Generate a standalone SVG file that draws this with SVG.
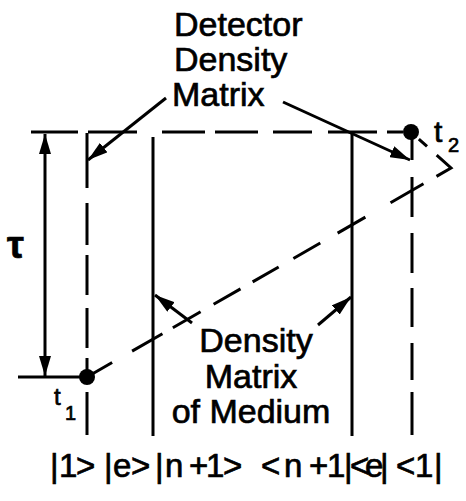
<svg xmlns="http://www.w3.org/2000/svg" width="466" height="501" viewBox="0 0 466 501">
<defs>
<style>
.ln{stroke:#000;stroke-width:3;fill:none;stroke-linecap:butt}
.lbl{font-family:"Liberation Sans",Arial,sans-serif;fill:#000;stroke:#000;stroke-width:0.7}
.big{font-size:34px}
</style>
<marker id="ah" viewBox="0 0 20 12" refX="20" refY="6" markerWidth="20" markerHeight="12" markerUnits="userSpaceOnUse" orient="auto">
<path d="M0,0 L20,6 L0,12 z" fill="#000"/>
</marker>
</defs>
<rect width="466" height="501" fill="#fff"/>

<g id="connectors">
  <!-- top dashed horizontal (t2 time line) -->
  <path class="ln" d="M31,132 H78 M88,132 H137 M162,132 H205 M215,132 H258 M273,132 H312 M328,132 H377 M387,132 H403"/>
  <!-- bottom horizontal (t1 time line) -->
  <path class="ln" d="M18,377 H87"/>
  <!-- tau double arrow -->
  <line class="ln" x1="45" y1="255" x2="45" y2="134" marker-end="url(#ah)"/>
  <line class="ln" x1="45" y1="255" x2="45" y2="376" marker-end="url(#ah)"/>
  <!-- left dashed vertical -->
  <path class="ln" d="M87,133 V188 M87,203 V245 M87,255 V295 M87,308 V348 M87,358 V377 M87,392 V435"/>
  <!-- solid verticals (medium) -->
  <path class="ln" d="M153,137 V436 M352,132 V436"/>
  <!-- right dashed vertical -->
  <path class="ln" d="M412,132 V160 M412,177 V217 M412,233 V273 M412,288 V327 M412,343 V380 M412,392 V435"/>
  <!-- diagonal dashed photon path with reflection -->
  <path class="ln" d="M87,377 L451,168 L411,132" stroke-dasharray="29 23 35 12 32 15 31 14 30 17 31 20 32 29 38 15 36 13 11 40" stroke-linejoin="miter"/>
  <!-- label arrows -->
  <line class="ln" x1="166" y1="98" x2="88" y2="160" marker-end="url(#ah)" stroke-width="2.5"/>
  <line class="ln" x1="283" y1="102" x2="410" y2="160" marker-end="url(#ah)" stroke-width="2.5"/>
  <line class="ln" x1="192" y1="323" x2="155" y2="295" marker-end="url(#ah)" stroke-width="2.5"/>
  <line class="ln" x1="318" y1="325" x2="351" y2="297" marker-end="url(#ah)" stroke-width="2.5"/>
</g>

<g id="t1">
  <circle cx="87" cy="377" r="8" fill="#000"/>
  <text class="lbl" x="54" y="405" font-size="24">t<tspan x="65" y="420" font-size="20">1</tspan></text>
</g>
<g id="t2">
  <circle cx="411" cy="132" r="8" fill="#000"/>
  <text class="lbl" x="434" y="142" font-size="30">t<tspan x="448" y="152" font-size="20">2</tspan></text>
</g>
<g id="tau">
  <text class="lbl" x="7" y="258" font-size="38" font-weight="bold">τ</text>
</g>
<g id="detector-label">
  <text class="lbl big"><tspan x="174" y="36">Detector</tspan><tspan x="174" y="71">Density</tspan><tspan x="172" y="106">Matrix</tspan></text>
</g>
<g id="medium-label">
  <text class="lbl big" text-anchor="middle"><tspan x="256" y="352">Density</tspan><tspan x="251" y="388">Matrix</tspan><tspan x="251" y="423">of Medium</tspan></text>
</g>
<g id="states">
  <text class="lbl" font-size="33" y="477" x="50 59 76 104 113 131 155 165 189 206 223 245 261 284 309 327 344 350 365 380 396 415 434">|1&gt;|e&gt;|n+1&gt; &lt;n+1|&lt;e|&lt;1|</text>
</g>
</svg>
